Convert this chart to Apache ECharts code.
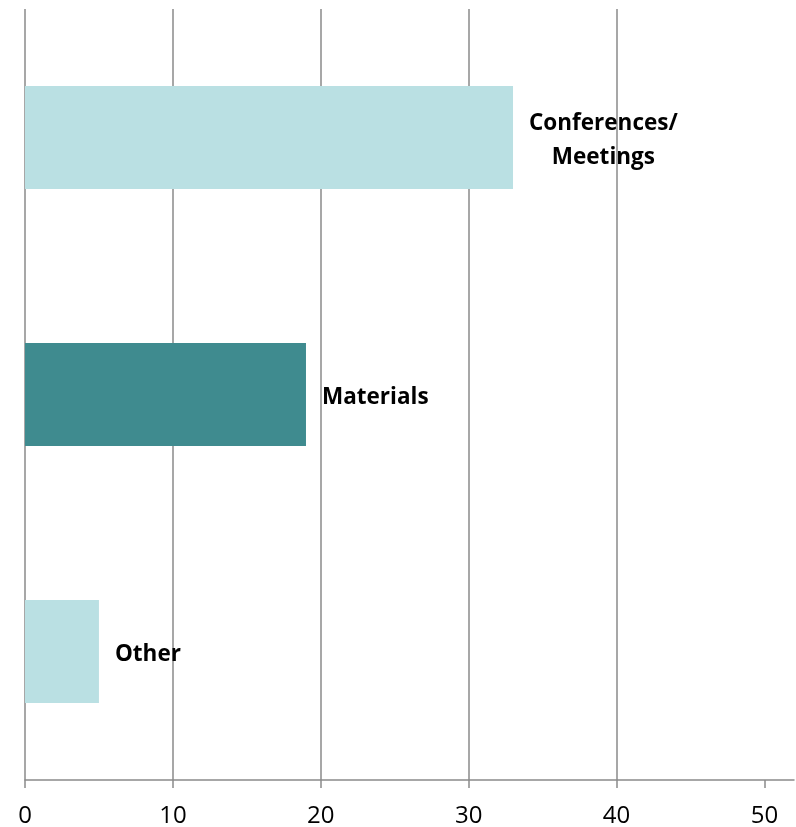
<!DOCTYPE html>
<html>
<head>
<meta charset="utf-8">
<script src="https://cdn.jsdelivr.net/npm/echarts@6/dist/echarts.min.js"></script>
<style>
html,body{margin:0;padding:0;background:#fff;}
#chart{width:796px;height:827px;}
</style>
</head>
<body>
<div id="chart"></div>
<script>
const categories = ['Conferences/\nMeetings', 'Materials', 'Other'];
const values = [33, 19, 5];
const barColors = ['#BAE0E3', '#3F8B8F', '#BAE0E3'];
const tickValues = [0, 10, 20, 30, 40, 50];

const gridColor = '#8a8a8a';
const chart = echarts.init(document.getElementById('chart'));
chart.setOption({
  animation: false,
  grid: { left: 25, right: 2, top: 9, bottom: 47, containLabel: false, outerBoundsMode: 'none' },
  xAxis: {
    type: 'value',
    min: 0, max: 52, interval: 10,
    axisLine: { show: true, lineStyle: { color: gridColor, width: 1.5 } },
    axisTick: { show: true, length: 8, customValues: tickValues, lineStyle: { color: gridColor, width: 1.5 } },
    axisLabel: { customValues: tickValues, margin: 24, color: '#000', fontSize: 24, fontFamily: 'Open Sans' },
    splitLine: { show: true, showMaxLine: false, lineStyle: { color: gridColor, width: 1.5 } }
  },
  yAxis: {
    type: 'category',
    data: categories,
    inverse: true,
    axisLine: { show: false },
    axisTick: { show: false },
    axisLabel: { show: false },
    splitLine: { show: false }
  },
  series: [{
    type: 'bar',
    barWidth: '40%',
    data: values.map((v, i) => ({ value: v, itemStyle: { color: barColors[i] } })),
    label: {
      show: true,
      position: 'right',
      distance: 16,
      offset: [0, 3],
      formatter: p => categories[p.dataIndex].split('\n').map(s => '{c|' + s + '}').join('\n'),
      rich: {
        c: { align: 'center', fontSize: 22.5, fontWeight: 'bold', fontFamily: 'Open Sans', color: '#000', lineHeight: 34 }
      }
    }
  }]
});
</script>
</body>
</html>
